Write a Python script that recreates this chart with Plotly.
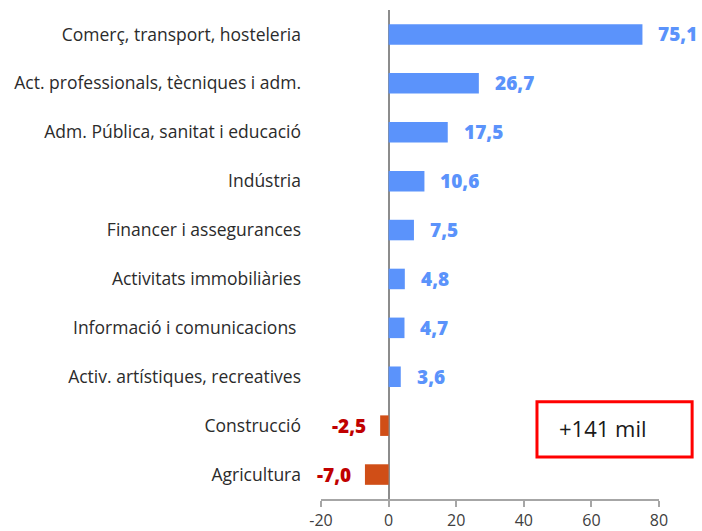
import plotly.graph_objects as go

categories = [
    "Comerç, transport, hosteleria",
    "Act. professionals, tècniques i adm.",
    "Adm. Pública, sanitat i educació",
    "Indústria",
    "Financer i assegurances",
    "Activitats immobiliàries",
    "Informació i comunicacions ",
    "Activ. artístiques, recreatives",
    "Construcció",
    "Agricultura",
]
values = [75.1, 26.7, 17.5, 10.6, 7.5, 4.8, 4.7, 3.6, -2.5, -7.0]
x_ticks = [-20, 0, 20, 40, 60, 80]
total_label = "+141 mil"

POS_BAR = "#5B93FB"
NEG_BAR = "#D04E17"
POS_TXT = "#5B93FB"
NEG_TXT = "#C00000"

bar_colors = [POS_BAR if v >= 0 else NEG_BAR for v in values]

fig = go.Figure(go.Bar(
    x=values, y=categories, orientation="h",
    marker=dict(color=bar_colors, line=dict(width=0)),
    hoverinfo="skip",
))

def fmt(v):
    return f"{v:.1f}".replace(".", ",")

annotations = []
for c, v in zip(categories, values):
    pos = v >= 0
    annotations.append(dict(
        x=v, y=c, xref="x", yref="y",
        text=fmt(v),
        showarrow=False,
        xanchor="left" if pos else "right",
        xshift=14 if pos else -12,
        font=dict(family="Open Sans", size=19, weight=800,
                  color=POS_TXT if pos else NEG_TXT),
    ))

annotations.append(dict(
    x=0.835, y=0.145, xref="paper", yref="paper",
    text=total_label, showarrow=False,
    font=dict(family="Open Sans", size=22, color="#1a1a1a"),
    xanchor="center", yanchor="middle",
))

fig.update_layout(
    width=702, height=531,
    margin=dict(l=321, r=43, t=10, b=32),
    paper_bgcolor="white", plot_bgcolor="white",
    showlegend=False,
    bargap=0.58,
    annotations=annotations,
    shapes=[dict(
        type="rect", xref="paper", yref="paper",
        x0=0.639, x1=1.098, y0=0.086, y1=0.199,
        line=dict(color="#FF0000", width=3), fillcolor="rgba(0,0,0,0)",
    )],
    xaxis=dict(
        range=[-20, 80], tickvals=x_ticks,
        ticktext=[str(t) for t in x_ticks],
        showgrid=False, zeroline=True, zerolinecolor="#8C8C8C", zerolinewidth=2,
        showline=True, linecolor="#A6A6A6", linewidth=2,
        ticks="outside", ticklen=6, tickcolor="#A6A6A6", tickwidth=2,
        tickfont=dict(family="Open Sans", size=16, color="#404040"),
        fixedrange=True, automargin=False,
    ),
    yaxis=dict(
        autorange="reversed", showgrid=False, zeroline=False, showline=False,
        ticks="", ticklabelstandoff=19,
        tickfont=dict(family="Open Sans", size=17.5, color="#2b2b2b"),
        fixedrange=True, automargin=False,
    ),
)

fig.write_html("out.html", config={"displayModeBar": False},
               post_script="document.body.style.margin='0';")
